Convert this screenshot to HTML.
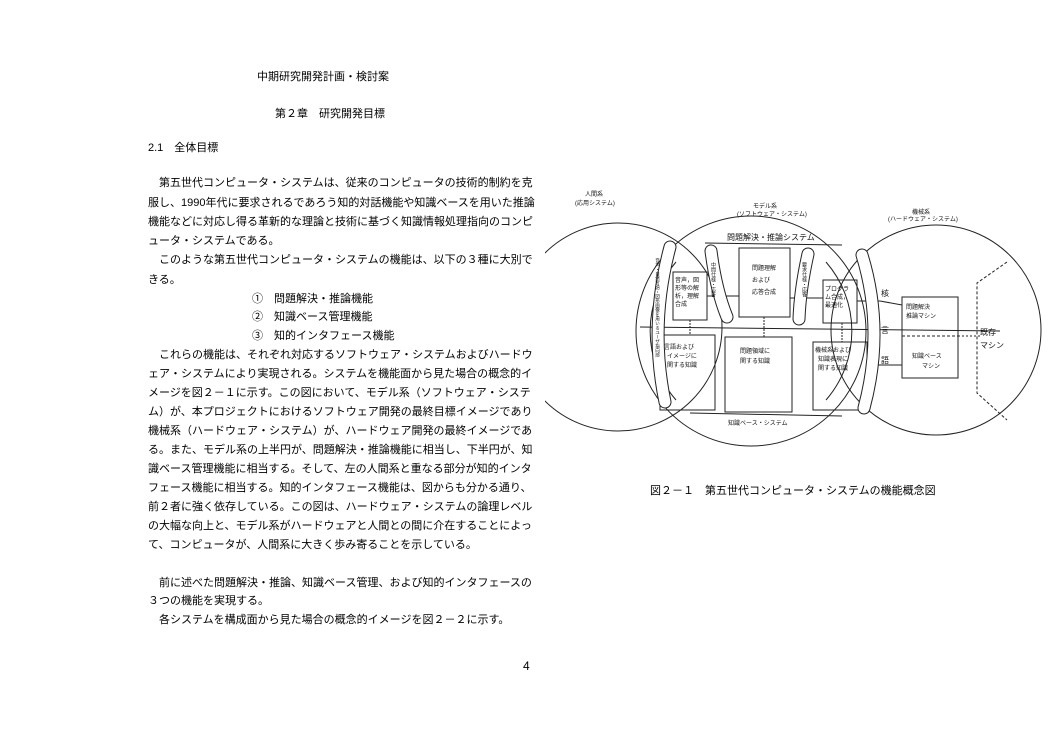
<!DOCTYPE html>
<html><head><meta charset="utf-8">
<style>
html,body{margin:0;padding:0;background:#fff;}
body{width:1054px;height:750px;position:relative;overflow:hidden;font-family:"Liberation Sans","Noto Sans CJK JP",sans-serif;color:#000;}
.l{position:absolute;font-size:11px;line-height:14px;white-space:nowrap;text-align:justify;text-align-last:justify;}
.f{left:148px;width:374px;}
.i{left:159px;width:363px;}
.s{position:absolute;font-size:11px;line-height:14px;white-space:nowrap;}
svg text{font-family:"Liberation Sans","Noto Sans CJK JP",sans-serif;fill:#111;}
</style></head><body>
<div class="s" style="left:257px;top:70px;">中期研究開発計画・検討案</div>
<div class="s" style="left:275px;top:107px;">第２章　研究開発目標</div>
<div class="s" style="left:148px;top:141px;">2.1　全体目標</div>

<div class="l i" style="top:176px">第五世代コンピュータ・システムは、従来のコンピュータの技術的制約を克</div>
<div class="l f" style="top:196px">服し、1990年代に要求されるであろう知的対話機能や知識ベースを用いた推論</div>
<div class="l f" style="top:215px">機能などに対応し得る革新的な理論と技術に基づく知識情報処理指向のコンピ</div>
<div class="s" style="left:148px;top:234px">ュータ・システムである。</div>
<div class="l i" style="top:253px">このような第五世代コンピュータ・システムの機能は、以下の３種に大別で</div>
<div class="s" style="left:148px;top:273px">きる。</div>
<div class="s" style="left:252px;top:292px">①　問題解決・推論機能</div>
<div class="s" style="left:252px;top:310px">②　知識ベース管理機能</div>
<div class="s" style="left:252px;top:329px">③　知的インタフェース機能</div>
<div class="l i" style="top:348px">これらの機能は、それぞれ対応するソフトウェア・システムおよびハードウ</div>
<div class="l f" style="top:367px">ェア・システムにより実現される。システムを機能面から見た場合の概念的イ</div>
<div class="l f" style="top:386px">メージを図２－１に示す。この図において、モデル系（ソフトウェア・システ</div>
<div class="l f" style="top:405px">ム）が、本プロジェクトにおけるソフトウェア開発の最終目標イメージであり</div>
<div class="l f" style="top:424px">機械系（ハードウェア・システム）が、ハードウェア開発の最終イメージであ</div>
<div class="l f" style="top:443px">る。また、モデル系の上半円が、問題解決・推論機能に相当し、下半円が、知</div>
<div class="l f" style="top:462px">識ベース管理機能に相当する。そして、左の人間系と重なる部分が知的インタ</div>
<div class="l f" style="top:481px">フェース機能に相当する。知的インタフェース機能は、図からも分かる通り、</div>
<div class="l f" style="top:500px">前２者に強く依存している。この図は、ハードウェア・システムの論理レベル</div>
<div class="l f" style="top:519px">の大幅な向上と、モデル系がハードウェアと人間との間に介在することによっ</div>
<div class="s" style="left:148px;top:538px">て、コンピュータが、人間系に大きく歩み寄ることを示している。</div>
<div class="l i" style="top:576px">前に述べた問題解決・推論、知識ベース管理、および知的インタフェースの</div>
<div class="s" style="left:148px;top:594px">３つの機能を実現する。</div>
<div class="s" style="left:159px;top:613px">各システムを構成面から見た場合の概念的イメージを図２－２に示す。</div>
<div class="s" style="left:523px;top:659px;font-size:12px">4</div>
<div class="s" style="left:650px;top:484px;">図２－１　第五世代コンピュータ・システムの機能概念図</div>

<svg width="1054" height="750" style="position:absolute;left:0;top:0" xmlns="http://www.w3.org/2000/svg">
<defs><clipPath id="cl"><rect x="545" y="0" width="500" height="750"/></clipPath></defs>
<g fill="none" stroke="#222" stroke-width="1" clip-path="url(#cl)">
<circle cx="618" cy="327" r="104"/>
<circle cx="751" cy="331" r="115"/>
<circle cx="936" cy="330" r="105"/>
<path d="M676 262 A105 105 0 0 0 676 400"/>
<path d="M826 262 A105 105 0 0 1 826 400"/>
</g>
<g fill="none" stroke="#222" stroke-width="1">
<line x1="705" y1="243" x2="842" y2="245"/>
<line x1="640" y1="327" x2="1000" y2="331"/>
<line x1="690" y1="413" x2="842" y2="416"/>
<rect x="673" y="272" width="34" height="48"/>
<rect x="739" y="248" width="51" height="69"/>
<rect x="823" y="280" width="34" height="43"/>
<rect x="660" y="335" width="55" height="75"/>
<rect x="725" y="337" width="67" height="75"/>
<rect x="813" y="342" width="54" height="68"/>
<rect x="902" y="297" width="56" height="81"/>
<line x1="902" y1="336" x2="958" y2="336" stroke-dasharray="3,2"/>
<polyline points="1007,262 977,283 977,393 1007,420" stroke-dasharray="3,2"/>
<line x1="958" y1="336" x2="980" y2="336" stroke-dasharray="2,2"/>
<line x1="707" y1="296" x2="739" y2="296"/>
<line x1="790" y1="298" x2="823" y2="298"/>
<line x1="857" y1="301" x2="880" y2="301"/>
<line x1="880" y1="301" x2="902" y2="305"/>
<line x1="870" y1="365" x2="902" y2="365"/>
<line x1="690" y1="320" x2="690" y2="335" stroke-dasharray="2,1"/>
<line x1="764" y1="317" x2="764" y2="337" stroke-dasharray="2,1"/>
<line x1="842" y1="323" x2="842" y2="342" stroke-dasharray="2,1"/>
</g>
<g fill="none" stroke-linecap="round">
<path d="M670 247 Q649 325 665 402" stroke="#222" stroke-width="13"/>
<path d="M670 247 Q649 325 665 402" stroke="#fff" stroke-width="11"/>
<path d="M711 251 Q716 290 727 317" stroke="#222" stroke-width="13"/>
<path d="M711 251 Q716 290 727 317" stroke="#fff" stroke-width="11"/>
<path d="M808 254 Q800 290 799 319" stroke="#222" stroke-width="13"/>
<path d="M808 254 Q800 290 799 319" stroke="#fff" stroke-width="11"/>
<path d="M862 255 Q885 330 864 408" stroke="#222" stroke-width="13"/>
<path d="M862 255 Q885 330 864 408" stroke="#fff" stroke-width="11"/>
</g>
<g font-size="6">
<text x="585" y="196">人間系</text>
<text x="575" y="205">(応用システム)</text>
<text x="753" y="208">モデル系</text>
<text x="737" y="216">(ソフトウェア・システム)</text>
<text x="912" y="214">機械系</text>
<text x="888" y="221">(ハードウェア・システム)</text>
<text x="727" y="240" font-size="8">問題解決・推論システム</text>
<text x="728" y="425">知識ベース・システム</text>
<text x="675" y="282">音声，図</text><text x="675" y="290">形等の解</text><text x="675" y="298">析，理解</text><text x="675" y="306">合成</text>
<text x="752" y="270">問題理解</text><text x="752" y="282">および</text><text x="752" y="294">応答合成</text>
<text x="825" y="291">プログラ</text><text x="825" y="299">ム合成，</text><text x="825" y="307">最適化</text>
<text x="664" y="349">言語および</text><text x="667" y="358">イメージに</text><text x="667" y="367">関する知識</text>
<text x="740" y="353">問題領域に</text><text x="740" y="363">関する知識</text>
<text x="815" y="352">機械系および</text><text x="818" y="361">知識表現に</text><text x="818" y="370">関する知識</text>
<text x="906" y="309">問題解決</text><text x="906" y="318">推論マシン</text>
<text x="912" y="358">知識ベース</text><text x="922" y="368">マシン</text>
<text x="980" y="335" font-size="8">既存</text><text x="980" y="348" font-size="8">マシン</text>
<text x="881" y="296" font-size="8">核</text><text x="881" y="333" font-size="8">言</text><text x="881" y="363" font-size="8">語</text>
<text x="658" y="258" font-size="4.5" writing-mode="tb">音声・自然言語・図形画像を用いるユーザ指向部</text>
<text x="713" y="262" font-size="5" writing-mode="tb">中間仕様・応答</text>
<text x="804" y="262" font-size="5" writing-mode="tb">要求仕様・応答</text>
</g>
</svg>
</body></html>
